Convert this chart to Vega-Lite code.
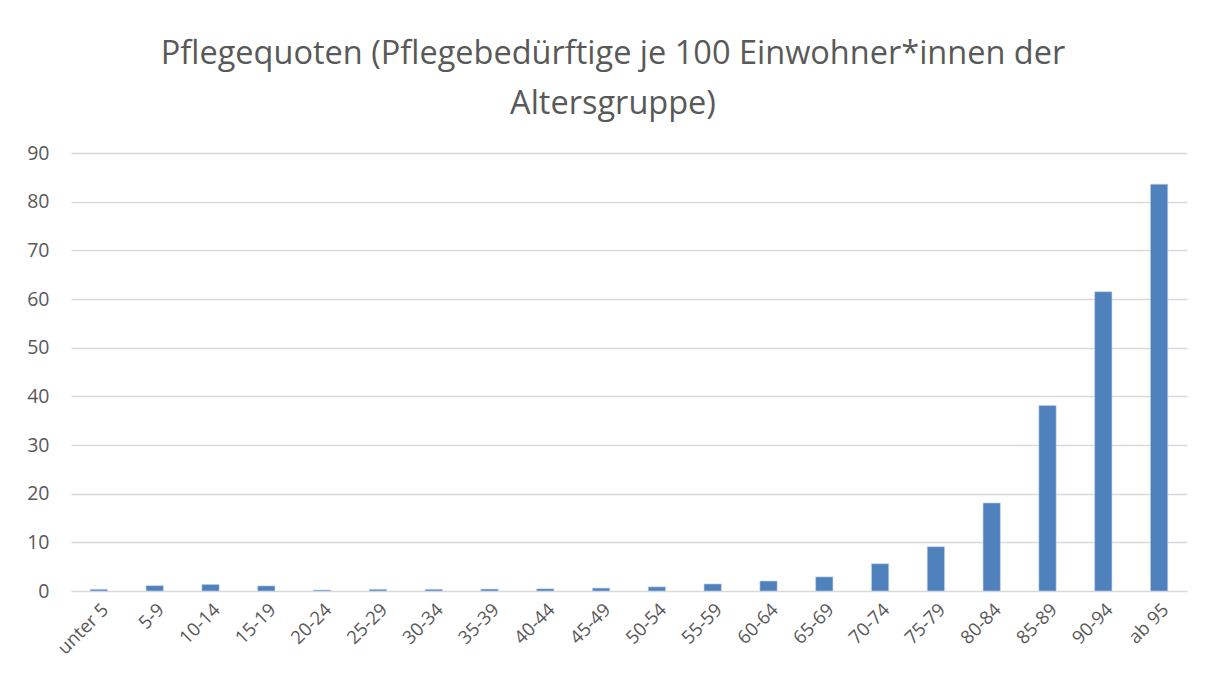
{
  "$schema": "https://vega.github.io/schema/vega-lite/v6.json",
  "width": 1116,
  "height": 438,
  "autosize": "none",
  "padding": {"left": 71, "top": 153, "right": 25, "bottom": 97},
  "background": "white",
  "title": {
    "text": ["Pflegequoten (Pflegebedürftige je 100 Einwohner*innen der", "Altersgruppe)"],
    "font": "Open Sans",
    "fontSize": 32.5,
    "fontWeight": "normal",
    "color": "#595959",
    "lineHeight": 50,
    "anchor": "middle",
    "dx": -16,
    "offset": 23
  },
  "data": {
    "values": [
      {"Altersgruppe": "unter 5", "Quote": 0.35},
      {"Altersgruppe": "5-9", "Quote": 1.1},
      {"Altersgruppe": "10-14", "Quote": 1.35},
      {"Altersgruppe": "15-19", "Quote": 1.05},
      {"Altersgruppe": "20-24", "Quote": 0.2},
      {"Altersgruppe": "25-29", "Quote": 0.35},
      {"Altersgruppe": "30-34", "Quote": 0.35},
      {"Altersgruppe": "35-39", "Quote": 0.4},
      {"Altersgruppe": "40-44", "Quote": 0.45},
      {"Altersgruppe": "45-49", "Quote": 0.6},
      {"Altersgruppe": "50-54", "Quote": 0.85},
      {"Altersgruppe": "55-59", "Quote": 1.45},
      {"Altersgruppe": "60-64", "Quote": 2.05},
      {"Altersgruppe": "65-69", "Quote": 2.9},
      {"Altersgruppe": "70-74", "Quote": 5.6},
      {"Altersgruppe": "75-79", "Quote": 9.1},
      {"Altersgruppe": "80-84", "Quote": 18.1},
      {"Altersgruppe": "85-89", "Quote": 38.1},
      {"Altersgruppe": "90-94", "Quote": 61.5},
      {"Altersgruppe": "ab 95", "Quote": 83.6}
    ]
  },
  "mark": {"type": "bar", "color": "#4f81bd", "stroke": "#c5d5ea", "strokeWidth": 0.6},
  "encoding": {
    "x": {
      "field": "Altersgruppe",
      "type": "nominal",
      "sort": null,
      "scale": {"paddingInner": 0.69, "paddingOuter": 0.345},
      "axis": {
        "title": null,
        "labelAngle": -45,
        "labelFont": "Open Sans",
        "labelFontSize": 18.5,
        "labelColor": "#595959",
        "ticks": false,
        "domain": false,
        "labelPadding": 9
      }
    },
    "y": {
      "field": "Quote",
      "type": "quantitative",
      "scale": {"domain": [0, 90]},
      "axis": {
        "title": null,
        "values": [0, 10, 20, 30, 40, 50, 60, 70, 80, 90],
        "labelFont": "Open Sans",
        "labelFontSize": 19.5,
        "labelColor": "#595959",
        "ticks": false,
        "domain": false,
        "labelPadding": 22,
        "gridColor": "#d9d9d9",
        "gridWidth": 1.3
      }
    }
  },
  "config": {"view": {"stroke": null}}
}
